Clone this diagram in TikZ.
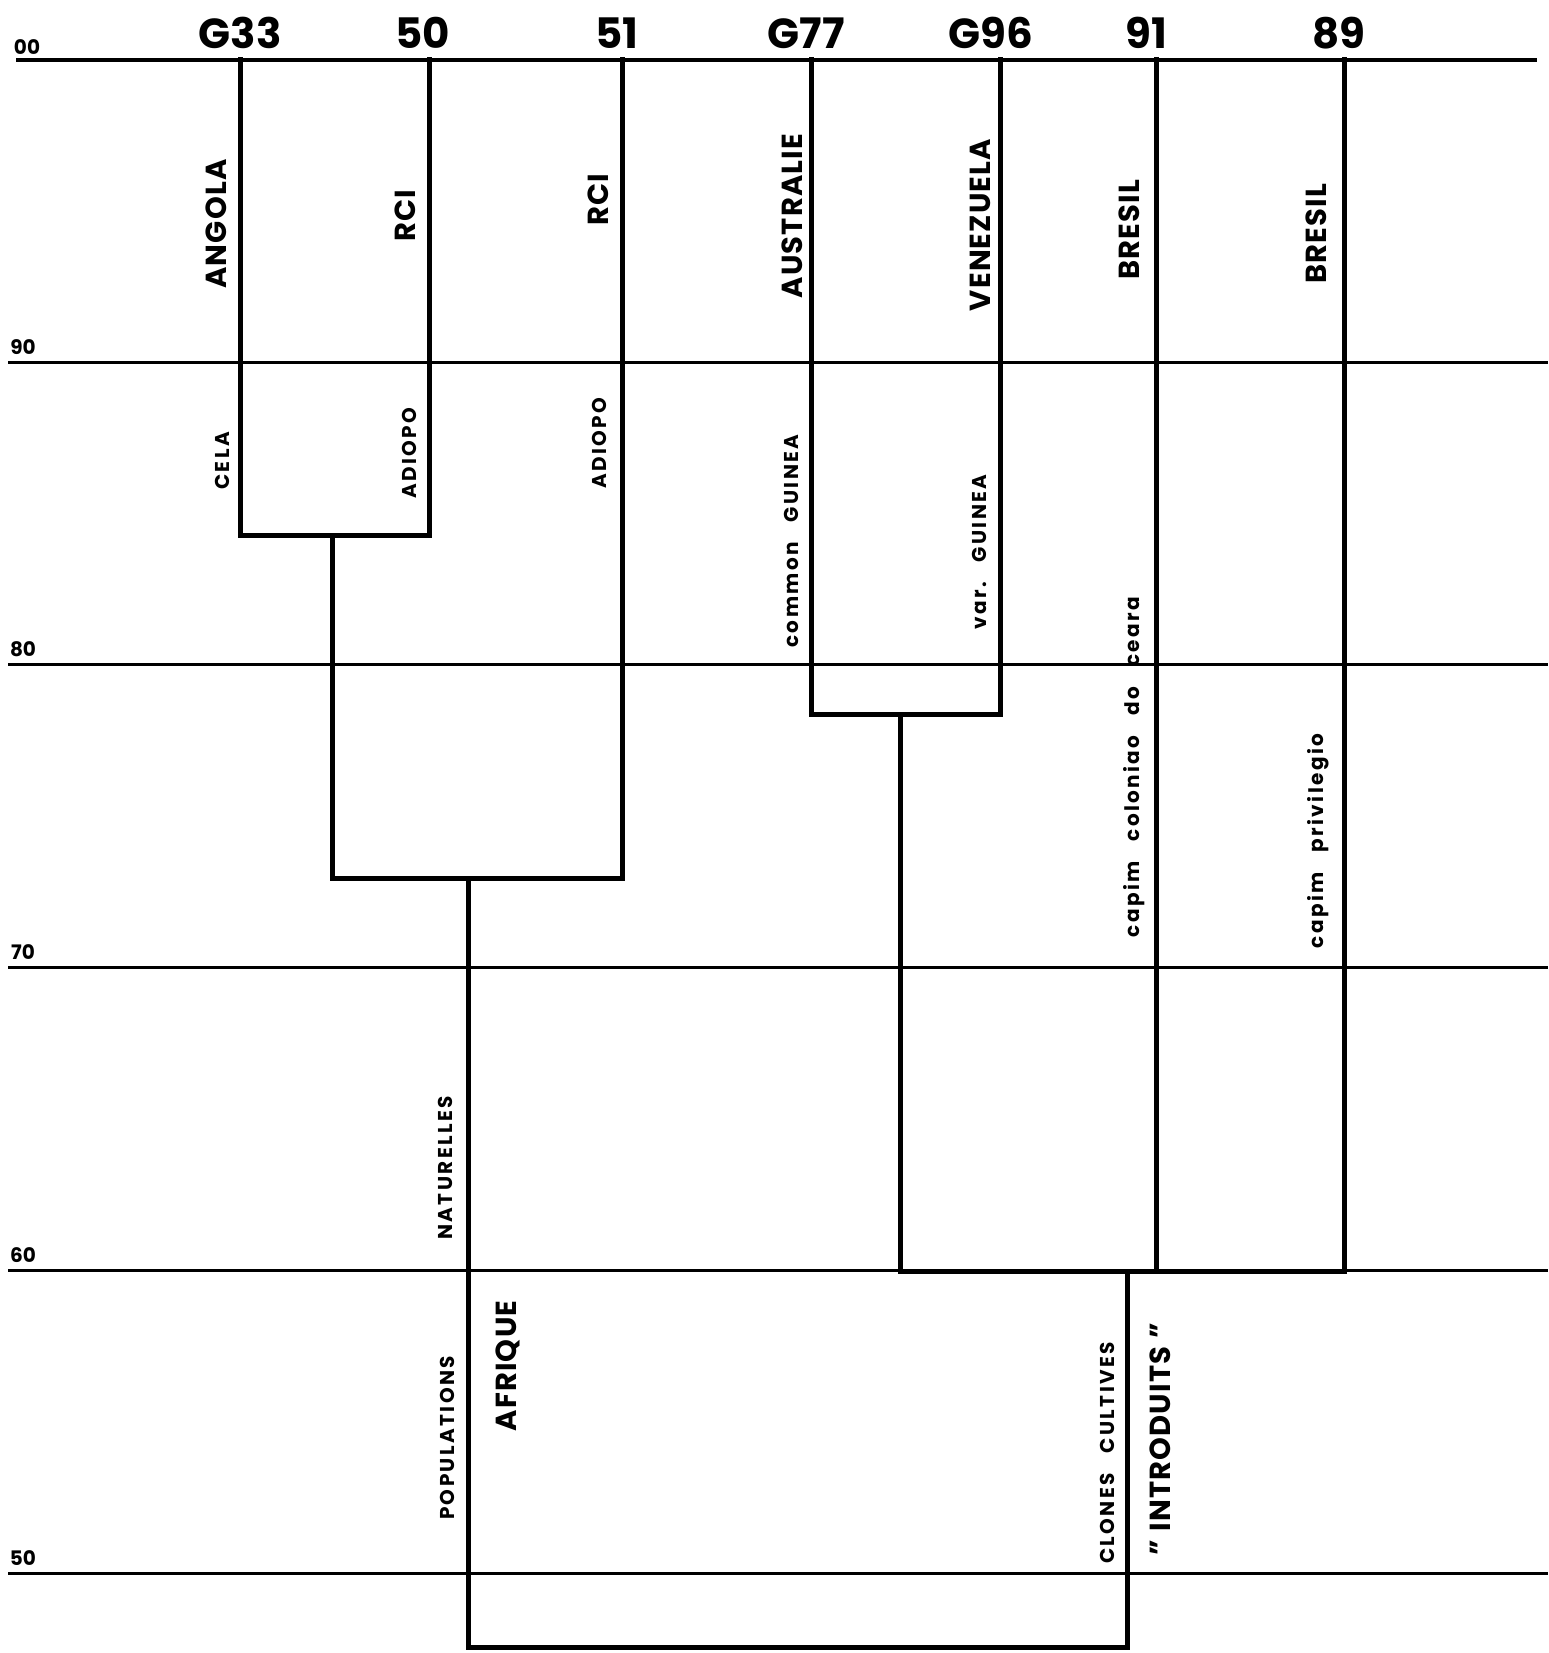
\documentclass[tikz,border=0pt]{standalone}
\usepackage{fontspec}
\setmainfont{Poppins}
\usetikzlibrary{calc}
\tikzset{rule/.style={line width=3pt, black},
branch/.style={line width=5pt, black, line cap=rect},
clone/.style={font=\fontsize{42}{50}\selectfont\bfseries},
value/.style={font=\fontsize{20}{24}\selectfont\bfseries},
origin/.style={rotate=90, font=\fontsize{29}{34}\selectfont\bfseries\addfontfeature{LetterSpace=4}},
cultivar/.style={rotate=90, font=\fontsize{20}{24}\selectfont\bfseries\addfontfeature{LetterSpace=12}}}

\begin{document}
\begin{tikzpicture}[x=1pt,y=-1pt]
\useasboundingbox (0,0) rectangle (1548,1653);
% echelle de similarite
\draw[line width=4pt] (16,60) -- (1537,60);
\node[value] (v100) at (27,47) {00};
\foreach \v/\y in {90/362,80/664,70/967,60/1270,50/1573}{
	\draw[rule] (8,\y) -- (1548,\y);
	\node[value] (v\v) at (23,\y-15) {\v};}

% clones
\coordinate (g33) at (240,60);
\coordinate (c50) at (429,60);
\coordinate (c51) at (622,60);
\coordinate (g77) at (811,60);
\coordinate (g96) at (1000,60);
\coordinate (c91) at (1156,60);
\coordinate (c89) at (1344,60);
\foreach \c/\x/\t in {g33/240/G33,c50/423/50,c51/617/51,g77/806/G77,g96/991/G96,c91/1146/91,c89/1339/89}
	\node[clone] (n\c) at (\x,33) {\t};

% noeuds
\coordinate (ja) at (332,535);
\coordinate (jb) at (468,878);
\coordinate (jc) at (900,714);
\coordinate (jd) at (1127,1271);
\coordinate (root) at (800,1647);

\draw[branch] (g33) |- (ja) -| (c50);
\draw[branch] (ja) |- (jb) -| (c51);
\draw[branch] (g77) |- (jc) -| (g96);
\draw[branch] (jc) |- (jd) -| (c89);
\draw[branch] (c91) -- (c91 |- jd);
\draw[branch] (jb) |- (root) -| (jd);

% origines
\node[origin] (angola) at (216,224) {ANGOLA};
\node[origin] (rci1) at (405,216) {RCI};
\node[origin] (rci2) at (598,200) {RCI};
\node[origin] (austr) at (792,216) {AUSTRALIE};
\node[origin] (venez) at (980,225) {VENEZUELA};
\node[origin] (bres1) at (1129,230) {BRESIL};
\node[origin] (bres2) at (1316,234) {BRESIL};

\node[cultivar] (cela) at (222,461) {CELA};
\node[cultivar] (adio1) at (409,453) {ADIOPO};
\node[cultivar] (adio2) at (599,443) {ADIOPO};
\node[cultivar] (common) at (791,541) {common\quad GUINEA};
\node[cultivar] (var) at (979,552) {var.\quad GUINEA};
\node[cultivar] (colon) at (1134,767) {capim\quad coloniao\quad do\quad ceara};
\node[cultivar] (privil) at (1318,841) {capim\quad privilegio};

\node[cultivar] (natur) at (445,1168) {NATURELLES};
\node[cultivar] (popul) at (447,1438) {POPULATIONS};
\node[origin] (afriq) at (508,1366) {AFRIQUE};
\node[cultivar] (clones) at (1107,1453) {CLONES\quad CULTIVES};
\node[origin] (intro) at (1160,1439) {"\;INTRODUITS\;"};
\end{tikzpicture}
\end{document}
